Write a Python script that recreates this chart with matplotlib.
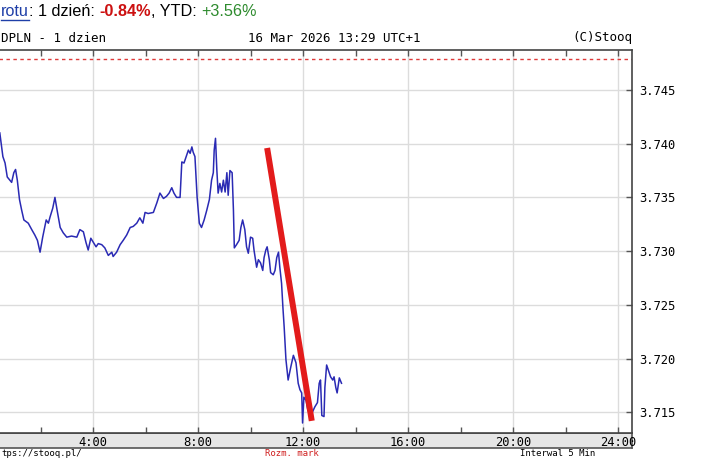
import matplotlib
matplotlib.use("Agg")
import matplotlib.pyplot as plt

# data: 5 min quotes (time, price)
times = ["0:27", "0:34", "0:39", "0:44", "0:50", "0:54", "0:59", "1:03", "1:07", "1:12",
         "1:17", "1:22", "1:32", "1:40", "1:47", "1:53", "1:59", "2:05", "2:13", "2:18",
         "2:22", "2:28", "2:33", "2:38", "2:45", "2:52", "3:00", "3:11", "3:23", "3:30",
         "3:38", "3:44", "3:49", "3:55", "4:01", "4:07", "4:12", "4:20", "4:27", "4:35",
         "4:43", "4:46", "4:54", "5:02", "5:09", "5:17", "5:25", "5:32", "5:40", "5:47",
         "5:54", "5:59", "6:06", "6:18", "6:26", "6:33", "6:41", "6:48", "6:54", "7:00",
         "7:05", "7:11", "7:19", "7:23", "7:28", "7:33", "7:38", "7:42", "7:46", "7:49",
         "7:53", "7:58", "8:03", "8:08", "8:14", "8:20", "8:26", "8:31", "8:35", "8:37",
         "8:40", "8:43", "8:46", "8:50", "8:54", "8:58", "9:02", "9:06", "9:09", "9:13",
         "9:18", "9:21", "9:23", "9:28", "9:34", "9:38", "9:42", "9:47", "9:51", "9:55",
         "10:00", "10:05", "10:08", "10:14", "10:18", "10:23", "10:28", "10:31", "10:35", "10:38",
         "10:43", "10:46", "10:52", "10:56", "11:00", "11:04", "11:07", "11:11", "11:14", "11:17",
         "11:21", "11:26", "11:32", "11:38", "11:44", "11:49", "11:53", "11:57", "11:59", "12:02",
         "12:07", "12:11", "12:18", "12:27", "12:33", "12:37", "12:40", "12:43", "12:48", "12:50",
         "12:54", "12:58", "13:03", "13:08", "13:11", "13:15", "13:18", "13:23", "13:28"]
prices = [3.7410, 3.7388, 3.7382, 3.7369, 3.7366, 3.7364, 3.7373, 3.7376, 3.7366, 3.7348,
          3.7338, 3.7329, 3.7326, 3.7320, 3.7315, 3.7310, 3.7299, 3.7313, 3.7329, 3.7326,
          3.7332, 3.7340, 3.7350, 3.7338, 3.7322, 3.7317, 3.7313, 3.7314, 3.7313, 3.7320,
          3.7318, 3.7308, 3.7301, 3.7312, 3.7308, 3.7304, 3.7307, 3.7306, 3.7303, 3.7296,
          3.7299, 3.7295, 3.7299, 3.7306, 3.7310, 3.7315, 3.7322, 3.7323, 3.7326, 3.7331,
          3.7326, 3.7336, 3.7335, 3.7336, 3.7345, 3.7354, 3.7349, 3.7351, 3.7354, 3.7359,
          3.7354, 3.7350, 3.7350, 3.7383, 3.7382, 3.7388, 3.7394, 3.7391, 3.7397, 3.7392,
          3.7388, 3.7350, 3.7326, 3.7322, 3.7329, 3.7338, 3.7348, 3.7366, 3.7373, 3.7394,
          3.7405, 3.7376, 3.7354, 3.7363, 3.7355, 3.7366, 3.7355, 3.7373, 3.7352, 3.7375,
          3.7373, 3.7338, 3.7303, 3.7306, 3.7310, 3.7322, 3.7329, 3.7320, 3.7304, 3.7298,
          3.7313, 3.7312, 3.7301, 3.7285, 3.7292, 3.7289, 3.7282, 3.7294, 3.7301, 3.7304,
          3.7292, 3.7280, 3.7278, 3.7282, 3.7294, 3.7299, 3.7285, 3.7270, 3.7248, 3.7229,
          3.7199, 3.7180, 3.7192, 3.7203, 3.7196, 3.7177, 3.7171, 3.7168, 3.7140, 3.7164,
          3.7161, 3.7152, 3.7147, 3.7155, 3.7159, 3.7177, 3.7180, 3.7147, 3.7146, 3.7173,
          3.7194, 3.7189, 3.7183, 3.7180, 3.7183, 3.7173, 3.7168, 3.7182, 3.7177]

prev_close = 3.7479
trend_times = ["10:38", "12:20"]
trend_prices = [3.7396, 3.7142]

xtick_hours = [4, 8, 12, 16, 20, 24]
xtick_labels = ["4:00", "8:00", "12:00", "16:00", "20:00", "24:00"]
ytick_vals = [3.715, 3.720, 3.725, 3.730, 3.735, 3.740, 3.745]


def to_hours(t):
    h, m = t.split(":")
    return int(h) + int(m) / 60


hours = [to_hours(t) for t in times]
trend_hours = [to_hours(t) for t in trend_times]

W, H = 701, 458
MONO = "DejaVu Sans Mono"
fig = plt.figure(figsize=(W / 100, H / 100), dpi=100)


def fx(px):
    return px / W


def fy(py):
    return 1 - py / H


# gray band under the plot for the time labels
band = fig.add_axes([fx(-30), fy(448), fx(632 + 30), (448 - 433) / H], zorder=0)
band.set_facecolor("#e6e6e6")
band.set_xticks([])
band.set_yticks([])
for s in band.spines.values():
    s.set_color("#555555")
    s.set_linewidth(1.2)

ax = fig.add_axes([fx(-27.75), fy(433), fx(632 + 27.75), (433 - 50) / H], zorder=1)
ax.set_xlim(-0.6, 24.533)
ax.set_ylim(3.71307, 3.74872)

ax.plot(hours, prices, color="#2a2ab4", lw=1.1)
ax.axhline(prev_close, color="#e03a3a", lw=1.0, ls=(0, (2.5, 2.5)))
ax.plot(trend_hours, trend_prices, color="#e31b1b", lw=4.3, solid_capstyle="butt")

ax.set_xticks(xtick_hours)
ax.set_xticklabels(xtick_labels, family=MONO, fontsize=8.7)
ax.set_xticks(range(0, 25, 2), minor=True)
ax.tick_params(axis="x", which="both", direction="in", length=4, width=1, color="#555555",
               top=True, pad=2.5)
ax.yaxis.tick_right()
ax.set_yticks(ytick_vals)
ax.set_yticklabels([f"{v:.3f}" for v in ytick_vals], family=MONO, fontsize=8.7)
ax.tick_params(axis="y", direction="in", length=4, width=1, color="#555555", pad=5)
ax.grid(True, which="major", color="#dcdcdc", lw=1.0)
ax.set_axisbelow(True)
for s in ax.spines.values():
    s.set_color("#444444")
    s.set_linewidth(1.2)

# header line above the plot
fig.text(fx(1), fy(38), "DPLN - 1 dzien", family=MONO, fontsize=9, va="center", ha="left")
fig.text(fx(334), fy(38), "16 Mar 2026 13:29 UTC+1", family=MONO, fontsize=9, va="center", ha="center")
fig.text(fx(632), fy(38), "(C)Stooq", family=MONO, fontsize=9, va="center", ha="right")

# footer under the band
fig.text(fx(1), fy(458), "tps://stooq.pl/", family=MONO, fontsize=6.5, va="bottom", ha="left")
fig.text(fx(265), fy(458), "Rozm. mark", family=MONO, fontsize=6.5, va="bottom", ha="left", color="#d02020")
fig.text(fx(520), fy(458), "Interwal 5 Min", family=MONO, fontsize=6.5, va="bottom", ha="left")

# top summary line in several colours
renderer = fig.canvas.get_renderer()
pieces = [("rotu", "#1f3fa8", "normal"), (": 1 dzień: ", "black", "normal"),
          ("-0.84%", "#cc1111", "bold"), (", YTD: ", "black", "normal"),
          ("+3.56%", "#2e8b2e", "normal")]
x = 1
for txt, col, wt in pieces:
    t = fig.text(fx(x), fy(11), txt, family="Liberation Sans", fontsize=11.7,
                 color=col, weight=wt, va="center", ha="left")
    bb = t.get_window_extent(renderer)
    if txt == "rotu":
        fig.add_artist(plt.Line2D([fx(x), bb.x1 / W], [fy(20), fy(20)], color=col, lw=1))
    x = bb.x1

fig.savefig("out.png", dpi=100)
